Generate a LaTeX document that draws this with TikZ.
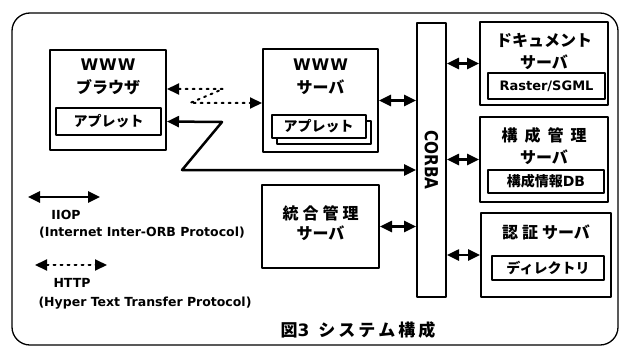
\documentclass[tikz,border=0pt]{standalone}
\usepackage{fontspec}
\setmainfont{DejaVu Sans}
\newfontfamily\jp{Noto Sans CJK JP}
\usetikzlibrary{arrows.meta,positioning}

\tikzset{
  srv/.style={draw,line width=2pt,inner sep=0pt},
  subbox/.style={draw,line width=2pt,inner sep=0pt,fill=white,font=\fontsize{14}{16}\selectfont\bfseries\jp},
  lbl/.style={font=\fontsize{16}{23}\selectfont\bfseries\jp,align=center,inner sep=0pt},
  note/.style={font=\fontsize{12.5}{15}\selectfont\bfseries,inner sep=0pt},
  iiop/.style={{Triangle[length=12pt,width=11pt]}-{Triangle[length=12pt,width=11pt]},line width=2.5pt},
  http/.style={iiop,line width=2pt,dash pattern=on 2pt off 5pt}
}
\newcommand{\www}{{\fontsize{16}{23}\selectfont\bfseries\rmfamily W\kern1pt W\kern1pt W}}

\begin{document}
\begin{tikzpicture}[x=1pt,y=-1pt,line cap=round,line join=round]
\useasboundingbox (0,0) rectangle (620,350);
\draw[line width=1.3pt,rounded corners=18pt] (12,13) rectangle (618,345);

% browser side
\node[srv,minimum width=116pt,minimum height=100pt] (brw) at (108,100) {};
\node[lbl] (brwname) at (108,77) {\www\\ブラウザ};
\node[subbox,minimum width=105pt,minimum height=27pt] (brwapp) at (108.5,121.5) {アプレット};

% web server
\node[srv,minimum width=115pt,minimum height=103pt] (web) at (320.5,100.5) {};
\node[lbl] (webname) at (320.5,76.5) {\www\\サーバ};
\node[subbox,minimum width=94pt,minimum height=23pt] (webshadow) at (323.5,132.5) {};
\node[subbox,minimum width=94pt,minimum height=23pt] (webapp) at (318.5,126.5) {アプレット};

% integration server
\node[srv,minimum width=117pt,minimum height=83pt] (mgr) at (320.5,226.5) {};
\node[lbl,font=\fontsize{16}{20}\selectfont\bfseries\jp] (mgrname) at (320.5,223) {統\hspace{4pt}合\hspace{4pt}管\hspace{4pt}理\\サーバ};

% CORBA
\node[srv,minimum width=29pt,minimum height=274pt] (corba) at (431.5,160) {};
\node[note,font=\fontsize{18}{20}\selectfont\bfseries,rotate=-90] (corbaname) at (431.5,160) {\scalebox{0.85}[1]{CORBA}};

% servers on the right
\node[srv,minimum width=128pt,minimum height=83pt] (doc) at (544,63.5) {};
\node[lbl,font=\fontsize{16}{22}\selectfont\bfseries\jp] (docname) at (544,51) {ドキュメント\\サーバ};
\node[subbox,font=\fontsize{13}{16}\selectfont\bfseries,minimum width=117pt,minimum height=26pt] (raster) at (546.5,86) {Raster/SGML};

\node[srv,minimum width=128pt,minimum height=85pt] (cfg) at (544,159.5) {};
\node[lbl,font=\fontsize{16}{22}\selectfont\bfseries\jp] (cfgname) at (544,146) {構\hspace{7pt}成\hspace{7pt}管\hspace{7pt}理\\サーバ};
\node[subbox,minimum width=116pt,minimum height=23pt] (cfgdb) at (546,181.5) {構成情報{\rmfamily DB}};

\node[srv,minimum width=130pt,minimum height=84pt] (auth) at (546,255) {};
\node[lbl] (authname) at (546,232) {認\hspace{4pt}証\hspace{4pt}サーバ};
\node[subbox,minimum width=112pt,minimum height=24pt] (dir) at (548,268) {ディレクトリ};

% IIOP links
\draw[iiop] (web.east) -- (corba.west |- web.east);
\draw[iiop] (corba.east |- doc.west) -- (doc.west);
\draw[iiop] (corba.east |- cfg.west) -- (cfg.west);
\draw[iiop] (mgr.east) -- (corba.west |- mgr.east);
\draw[iiop] (corba.east |- auth.west) -- (auth.west);
\coordinate (zA) at (222,122);
\coordinate (zB) at (182,170);
\draw[iiop] (brw.east |- brwapp.east) -- (zA) -- (zB) -- (zB -| corba.west);

% HTTP link
\coordinate (hA) at (223,89);
\coordinate (hB) at (190,103);
\draw[http] (brw.east |- hA) -- (hA) -- (hB) -- (web.west |- hB);

% legend
\coordinate (iiopL) at (28,197);
\coordinate (iiopR) at (100,197);
\draw[iiop] (iiopL) -- (iiopR);
\node[note] (iiopname) at (66,215) {IIOP};
\node[note] (iiopfull) at (142,233) {(Internet Inter-ORB Protocol)};
\coordinate (httpL) at (35,265);
\coordinate (httpR) at (107,265);
\draw[http] (httpL) -- (httpR);
\node[note] (httpname) at (72,283) {HTTP};
\node[note] (httpfull) at (145,303) {(Hyper Text Transfer Protocol)};

\node[lbl,font=\fontsize{17}{20}\selectfont\bfseries\jp] (caption) at (358,330) {図{\rmfamily 3}\hspace{9pt}シ\hspace{3pt}ス\hspace{3pt}テ\hspace{3pt}ム\hspace{3pt}構\hspace{3pt}成};
\end{tikzpicture}
\end{document}
